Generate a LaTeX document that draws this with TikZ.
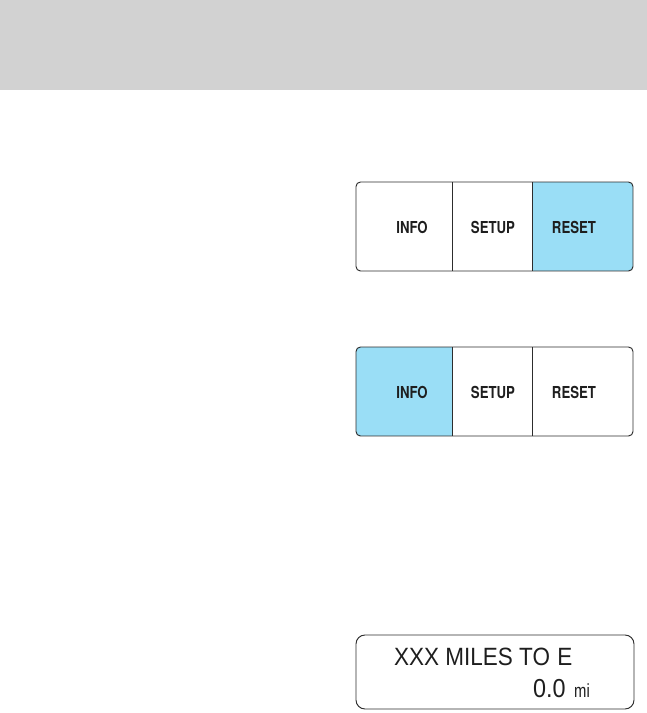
\documentclass[tikz,border=0pt]{standalone}
\usepackage{fontspec}
\setmainfont{Liberation Sans}
\newfontfamily\btnfont{TeX Gyre Heros}
\definecolor{bandgray}{RGB}{210,210,210}
\definecolor{selblue}{RGB}{154,222,246}
\definecolor{edge}{RGB}{45,45,45}
\definecolor{txt}{RGB}{30,30,30}
\tikzset{
  panel/.style={draw=edge, line width=0.95pt, rounded corners=4.5pt, inner sep=0pt},
  btn/.style={font=\btnfont\bfseries\fontsize{16.5}{18}\selectfont, text=txt, xscale=0.8, inner sep=0pt, anchor=base},
  lcd/.style={font=\fontsize{25}{27}\selectfont, text=txt, inner sep=0pt, anchor=base west, xscale=0.9},
  divider/.style={draw=edge, line width=0.95pt}
}
\begin{document}
\begin{tikzpicture}[x=1pt,y=-1pt]
\useasboundingbox (0,0) rectangle (647,713);
\fill[bandgray] (0,0) rectangle (647,90);

% panel 1 (RESET selected)
\begin{scope}
\clip[rounded corners=4.5pt] (356,182) rectangle (633,271);
\fill[selblue] (532,182) rectangle (633,271);
\end{scope}
\node[panel, minimum width=277pt, minimum height=89pt] (p1) at (494.5,226.5) {};
\coordinate (d1a) at (452,182); \coordinate (d1b) at (452,271);
\coordinate (d2a) at (532,182); \coordinate (d2b) at (532,271);
\draw[divider] (d1a) -- (d1b);
\draw[divider] (d2a) -- (d2b);
\node[btn] (info1) at (412,233) {INFO};
\node[btn] (setup1) at (493,233) {SETUP};
\node[btn] (reset1) at (574,233) {RESET};

% panel 2 (INFO selected)
\begin{scope}
\clip[rounded corners=4.5pt] (356,347) rectangle (633,436);
\fill[selblue] (356,347) rectangle (452,436);
\end{scope}
\node[panel, minimum width=277pt, minimum height=89pt] (p2) at (494.5,391.5) {};
\coordinate (e1a) at (452,347); \coordinate (e1b) at (452,436);
\coordinate (e2a) at (532,347); \coordinate (e2b) at (532,436);
\draw[divider] (e1a) -- (e1b);
\draw[divider] (e2a) -- (e2b);
\node[btn] (info2) at (412,398) {INFO};
\node[btn] (setup2) at (493,398) {SETUP};
\node[btn] (reset2) at (574,398) {RESET};

% panel 3 (display)
\node[panel, rounded corners=9pt, minimum width=278pt, minimum height=74pt] (p3) at (495,672) {};
\node[lcd] (line1) at (394,665) {XXX MILES TO\hspace{8pt}E};
\node[lcd, font=\fontsize{26}{28}\selectfont, xscale=1] (val) at (533,697) {0.0};
\node[inner sep=0pt, anchor=base west, font=\fontsize{19}{21}\selectfont, xscale=0.78, text=txt] (unit) at (574,697) {mi};
\end{tikzpicture}
\end{document}
